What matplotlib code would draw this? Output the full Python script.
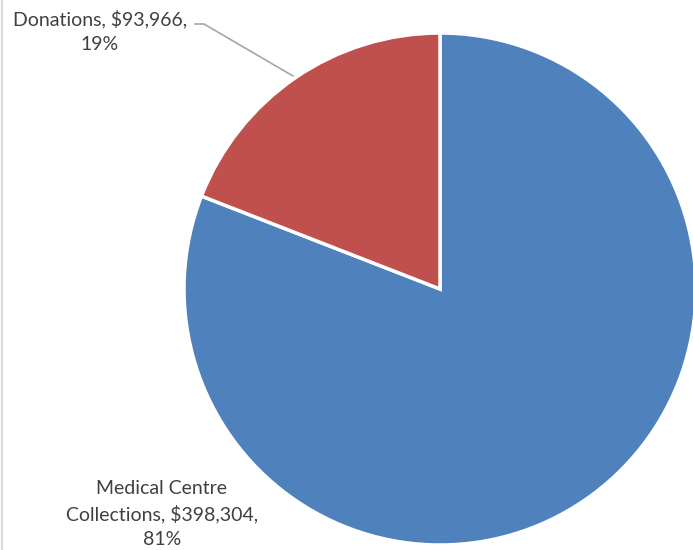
import matplotlib.pyplot as plt
from matplotlib.lines import Line2D

# Data
categories = ["Medical Centre\nCollections", "Donations"]
amounts = [398304, 93966]
colors = ["#4F81BD", "#C0504D"]

total = sum(amounts)
pcts = [round(a / total * 100) for a in amounts]

W, H = 693, 550
fig = plt.figure(figsize=(W / 100, H / 100), dpi=100)
ax = fig.add_axes([0, 0, 1, 1])

# pie in pixel coordinates (y measured from bottom)
cx, cy, r = 440, H - 289, 256
ax.pie(amounts, colors=colors, startangle=90, counterclock=False,
       center=(cx, cy), radius=r, frame=True,
       wedgeprops=dict(edgecolor="white", linewidth=2.5))
ax.set_xlim(0, W)
ax.set_ylim(0, H)
ax.axis("off")

font = dict(family="Lato", fontsize=14, color="#404040",
            ha="center", va="center", linespacing=1.55)

# Donations label with leader line
ax.text(100, H - 31, f"{categories[1]}, ${amounts[1]:,},\n{pcts[1]}%", **font)
ax.add_line(Line2D([195, 204, 293], [H - 24, H - 24, H - 76],
                   color="#A6A6A6", linewidth=1.2))

# Medical centre label
label = categories[0].split("\n")
ax.text(162, H - 514, f"{label[0]}\n{label[1]}, ${amounts[0]:,},\n{pcts[0]}%", **font)

# left border of chart area
fig.add_artist(Line2D([2 / W, 2 / W], [0, 1], transform=fig.transFigure,
                      color="#D9D9D9", linewidth=1.5))

fig.savefig("out.png", dpi=100)
